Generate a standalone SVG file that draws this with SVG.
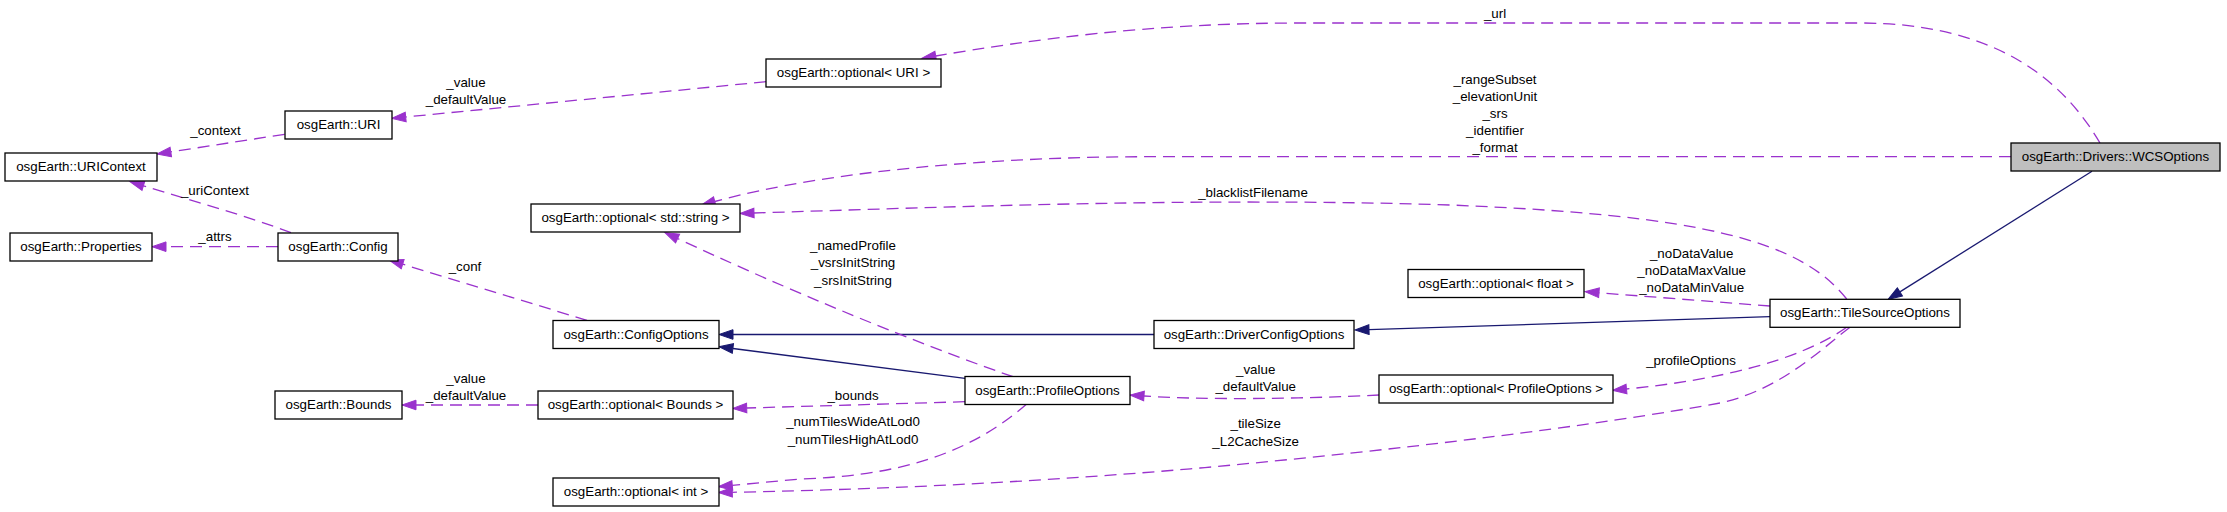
<svg xmlns="http://www.w3.org/2000/svg" width="2227" height="512" viewBox="0 0 2227 512">
<style>
  .node rect { fill: #ffffff; stroke: #000000; stroke-width: 1.3; }
  .node.main rect { fill: #bfbfbf; }
  text { font-family: "Liberation Sans", Arial, sans-serif; font-size: 13.33px; fill: #000000; text-anchor: middle; }
  .dep { fill: none; stroke: #9a32cd; stroke-width: 1.3; stroke-dasharray: 12,7; }
  .inh { fill: none; stroke: #191970; stroke-width: 1.3; }
  .dep { marker-end: url(#ap); }
  .inh { marker-end: url(#ab); }
</style>
<defs>
  <marker id="ap" markerUnits="userSpaceOnUse" markerWidth="14" markerHeight="9.6" viewBox="0 0 14 9.6" refX="0" refY="4.8" orient="auto" overflow="visible">
    <path d="M0,0 L14,4.8 L0,9.6 z" fill="#9a32cd" stroke="#9a32cd" stroke-width="1" stroke-dasharray="none"/>
  </marker>
  <marker id="ab" markerUnits="userSpaceOnUse" markerWidth="14" markerHeight="9.6" viewBox="0 0 14 9.6" refX="0" refY="4.8" orient="auto" overflow="visible">
    <path d="M0,0 L14,4.8 L0,9.6 z" fill="#191970" stroke="#191970" stroke-width="1" stroke-dasharray="none"/>
  </marker>
</defs>
<rect x="0" y="0" width="2227" height="512" fill="#ffffff"/>

<g id="connectors">
  <!-- _url -->
  <path class="dep" d="M2100,143 C2060,75 1990,23 1860,23 L1300,23 C1150,23 1030,40 935.7,56"/>
  <text x="1495" y="17.5">_url</text>
  <!-- WCS -> optional<string> -->
  <path class="dep" d="M2011,156.7 L1150,156.7 C1000,156.7 830,170 714.8,201.5"/>
  <text x="1495" y="84">_rangeSubset</text>
  <text x="1495" y="101">_elevationUnit</text>
  <text x="1495" y="118">_srs</text>
  <text x="1495" y="135">_identifier</text>
  <text x="1495" y="152">_format</text>
  <!-- blacklist -->
  <path class="dep" d="M1846.7,299 C1800,240 1700,215 1450,205 C1200,197 950,207 754,213"/>
  <text x="1253" y="197">_blacklistFilename</text>
  <!-- inheritance WCS -> TileSource -->
  <path class="inh" d="M2092,171.3 L1899.9,291.9"/>
  <!-- TileSource -> DriverConfig -->
  <path class="inh" d="M1770,316.7 L1369,329.6"/>
  <!-- DriverConfig -> ConfigOptions -->
  <path class="inh" d="M1154,334.5 L733,334.5"/>
  <!-- ProfileOptions -> ConfigOptions -->
  <path class="inh" d="M965,378.3 L732.9,348.5"/>
  <!-- ProfileOptions -> optional<string> -->
  <path class="dep" d="M1013,376.7 C950,355 820,305 677.6,238.5"/>
  <text x="853" y="249.5">_namedProfile</text>
  <text x="853" y="267">_vsrsInitString</text>
  <text x="853" y="284.5">_srsInitString</text>
  <!-- Config -> URIContext -->
  <path class="dep" d="M291,232.7 C250,217 190,200 143.4,185.8"/>
  <text x="215" y="195">_uriContext</text>
  <!-- URI -> URIContext -->
  <path class="dep" d="M284.6,134.3 L170.8,151.9"/>
  <text x="215.5" y="135">_context</text>
  <!-- optional<URI> -> URI -->
  <path class="dep" d="M766,81.7 L405.7,117"/>
  <text x="466" y="87">_value</text>
  <text x="466" y="104">_defaultValue</text>
  <!-- Config -> Properties -->
  <path class="dep" d="M278,246.7 L166,246.7"/>
  <text x="215" y="241">_attrs</text>
  <!-- ConfigOptions -> Config -->
  <path class="dep" d="M587,320.3 L402.7,264.2"/>
  <text x="465" y="270.5">_conf</text>
  <!-- optional<Bounds> -> Bounds -->
  <path class="dep" d="M538,405 L416,405"/>
  <text x="466" y="383">_value</text>
  <text x="466" y="400">_defaultValue</text>
  <!-- ProfileOptions -> optional<Bounds> -->
  <path class="dep" d="M965,401.7 L746.7,408"/>
  <text x="853" y="399.5">_bounds</text>
  <!-- ProfileOptions -> optional<int> -->
  <path class="dep" d="M1026.7,404 C965,458 890,476 800,479 L732.3,485.4"/>
  <text x="853" y="425.5">_numTilesWideAtLod0</text>
  <text x="853" y="443.5">_numTilesHighAtLod0</text>
  <!-- TileSource -> optional<int> -->
  <path class="dep" d="M1850,327.3 C1820,350 1780,390 1720,403 C1600,425 1400,450 1200,468 C1050,481 900,489 732.3,492.3"/>
  <text x="1255.7" y="428">_tileSize</text>
  <text x="1255.7" y="445.5">_L2CacheSize</text>
  <!-- TileSource -> optional<ProfileOptions> -->
  <path class="dep" d="M1846.7,327.3 C1800,360 1720,380 1626.5,389"/>
  <text x="1691" y="365">_profileOptions</text>
  <!-- optional<ProfileOptions> -> ProfileOptions -->
  <path class="dep" d="M1379,395 C1300,399 1200,400 1144,396"/>
  <text x="1255.7" y="373.5">_value</text>
  <text x="1255.7" y="391">_defaultValue</text>
  <!-- TileSource -> optional<float> -->
  <path class="dep" d="M1770,306 L1599,292.8"/>
  <text x="1691.7" y="257.5">_noDataValue</text>
  <text x="1691.7" y="275">_noDataMaxValue</text>
  <text x="1691.7" y="292">_noDataMinValue</text>
</g>

<g id="n_optURI" class="node"><rect x="766" y="59" width="175" height="28"/><text x="853.5" y="77">osgEarth::optional&lt; URI &gt;</text></g>
<g id="n_URI" class="node"><rect x="285" y="111" width="107" height="28"/><text x="338.5" y="129">osgEarth::URI</text></g>
<g id="n_URIContext" class="node"><rect x="5" y="153" width="152" height="28"/><text x="81" y="171">osgEarth::URIContext</text></g>
<g id="n_Properties" class="node"><rect x="10" y="233" width="142" height="28"/><text x="81" y="251">osgEarth::Properties</text></g>
<g id="n_Config" class="node"><rect x="278" y="233" width="120" height="28"/><text x="338" y="251">osgEarth::Config</text></g>
<g id="n_optString" class="node"><rect x="531" y="204" width="209" height="28"/><text x="635.5" y="222">osgEarth::optional&lt; std::string &gt;</text></g>
<g id="n_WCSOptions" class="node main"><rect x="2011" y="143" width="209" height="28"/><text x="2115.5" y="161">osgEarth::Drivers::WCSOptions</text></g>
<g id="n_ConfigOptions" class="node"><rect x="553" y="320.5" width="166" height="28"/><text x="636" y="338.5">osgEarth::ConfigOptions</text></g>
<g id="n_DriverConfigOptions" class="node"><rect x="1154" y="320.5" width="200" height="28"/><text x="1254" y="338.5">osgEarth::DriverConfigOptions</text></g>
<g id="n_optFloat" class="node"><rect x="1408" y="269.5" width="176" height="28"/><text x="1496" y="287.5">osgEarth::optional&lt; float &gt;</text></g>
<g id="n_TileSourceOptions" class="node"><rect x="1770" y="299.3" width="190" height="28"/><text x="1865" y="317.3">osgEarth::TileSourceOptions</text></g>
<g id="n_ProfileOptions" class="node"><rect x="965" y="376.5" width="165" height="28"/><text x="1047.5" y="394.5">osgEarth::ProfileOptions</text></g>
<g id="n_optProfileOptions" class="node"><rect x="1379" y="375" width="234" height="28"/><text x="1496" y="393">osgEarth::optional&lt; ProfileOptions &gt;</text></g>
<g id="n_Bounds" class="node"><rect x="275" y="391" width="127" height="28"/><text x="338.5" y="409">osgEarth::Bounds</text></g>
<g id="n_optBounds" class="node"><rect x="538" y="391" width="195" height="28"/><text x="635.5" y="409">osgEarth::optional&lt; Bounds &gt;</text></g>
<g id="n_optInt" class="node"><rect x="553" y="478" width="166" height="28"/><text x="636" y="496">osgEarth::optional&lt; int &gt;</text></g>
</svg>
